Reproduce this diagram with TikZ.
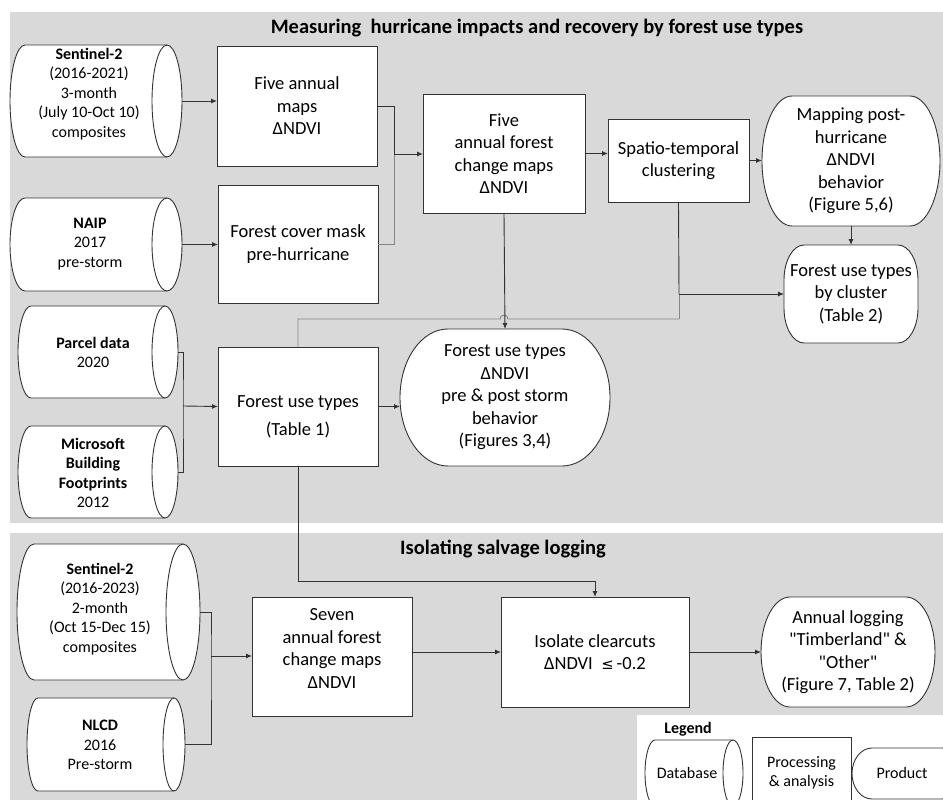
\documentclass[tikz,border=0pt]{standalone}
\usepackage{fontspec}
\setmainfont{Carlito}[Ligatures=TeXOff]
\newfontfamily\symfnt[Scale=0.8]{DejaVu Sans}
\usetikzlibrary{arrows.meta}
\definecolor{panel}{HTML}{D9D9D9}
\definecolor{edge}{HTML}{333333}
\definecolor{lightedge}{HTML}{858585}
\newcommand\bxfnt{\fontsize{18.5}{22.5}\selectfont}
\newcommand\dbfnt{\fontsize{16}{19.5}\selectfont}
\newcommand\ttlfnt{\fontsize{20.5}{24}\selectfont\bfseries}
% rounded (elliptic-corner) outline: x1 y1 x2 y2 rx ry
\newcommand\prodshape[6]{\path[shapeline] ({#1+#5},#2) -- ({#3-#5},#2) arc[start angle=-90,end angle=0,x radius=#5,y radius=#6] -- (#3,{#4-#6}) arc[start angle=0,end angle=90,x radius=#5,y radius=#6] -- ({#1+#5},#4) arc[start angle=90,end angle=180,x radius=#5,y radius=#6] -- (#1,{#2+#6}) arc[start angle=180,end angle=270,x radius=#5,y radius=#6] -- cycle;}
% database (horizontal cylinder): x1 y1 x2 y2 rx
\newcommand\dbshape[5]{\prodshape{#1}{#2}{#3}{#4}{#5}{(#4-#2)/2}\draw[shapeline,fill=none] ({#3-#5},#2) arc[start angle=-90,end angle=-270,x radius=#5,y radius={(#4-#2)/2}];}
\newcommand\prodnode[8]{\prodshape{#2}{#3}{#4}{#5}{#6}{#7}\node[hold,font=\bxfnt,minimum width={#4-#2},minimum height={#5-#3}] (#1) at ({(#2+#4)/2},{(#3+#5)/2}) {#8};}
\newcommand\dbnode[6]{\dbshape{#2}{#3}{#4}{#5}{#6}\node[hold,minimum width={#4-#2},minimum height={#5-#3}] (#1) at ({(#2+#4)/2},{(#3+#5)/2}) {};}
\tikzset{
  shapeline/.style={draw=edge,fill=white,line width=0.9pt},
  hold/.style={inner sep=0pt,outer sep=0pt,align=center},
  proc/.style={draw=edge,fill=white,line width=0.9pt,align=center,inner sep=0pt,outer sep=0pt,font=\bxfnt},
  txt/.style={align=center,inner sep=0pt,font=\bxfnt},
  dbtxt/.style={align=center,inner sep=0pt,font=\dbfnt},
  conn/.style={draw=edge,line width=0.9pt},
  lconn/.style={draw=lightedge,line width=0.9pt},
  arr/.style={conn,-{Latex[length=6pt,width=5pt]}},
}
\begin{document}
\begin{tikzpicture}[x=1pt,y=-1pt]
\useasboundingbox (0,0) rectangle (943,800);
\clip (0,0) rectangle (943,800);
\fill[white] (0,0) rectangle (943,800);
\fill[panel] (10,12) rectangle (943,523);
\fill[panel] (10,533) rectangle (943,800);
\fill[white] (637,715) rectangle (943,800);

\node[font=\ttlfnt,inner sep=0pt] (title1) at (537,28) {Measuring\ \ hurricane impacts and recovery by forest use types};
\node[font=\ttlfnt,inner sep=0pt] (title2) at (503,549) {Isolating salvage logging};

% databases
\dbnode{s2a}{10}{45}{182}{157}{15}
\node[dbtxt] (s2a-t) at (89,94) {{\bfseries Sentinel-2}\\(2016-2021)\\3-month\\(July 10-Oct 10)\\composites};
\dbnode{naip}{10}{198}{182}{291}{15}
\node[dbtxt] (naip-t) at (90,244) {{\bfseries NAIP}\\2017\\pre-storm};
\dbnode{parcel}{18}{306}{178}{398}{13}
\node[dbtxt] (parcel-t) at (93,352.5) {{\bfseries Parcel data}\\2020};
\dbnode{micro}{18}{426}{178}{518}{13}
\node[dbtxt] (micro-t) at (93,473) {{\bfseries Microsoft}\\{\bfseries Building}\\{\bfseries Footprints}\\2012};
\dbnode{s2b}{17}{544}{200}{680}{17}
\node[dbtxt] (s2b-t) at (100,609) {{\bfseries Sentinel-2}\\(2016-2023)\\2-month\\(Oct 15-Dec 15)\\composites};
\dbnode{nlcd}{27}{698}{185}{791}{11}
\node[dbtxt] (nlcd-t) at (100,745) {{\bfseries NLCD}\\2016\\Pre-storm};

% processing boxes
\node[proc,minimum width=160,minimum height=120] (box1) at (297,106) {Five annual\\maps\\ΔNDVI};
\node[proc,minimum width=160,minimum height=118] (box2) at (298,244) {Forest cover mask\\pre-hurricane};
\node[proc,minimum width=162,minimum height=119] (box3) at (504,153.5) {Five\\annual forest\\change maps\\ΔNDVI};
\node[proc,minimum width=141,minimum height=83] (box4) at (678.5,160.5) {Spatio-temporal\\clustering};
\node[proc,minimum width=160,minimum height=119] (fut) at (298,406.5) {};
\node[txt] (fut-t) at (298,417) {Forest use types\\[5.5pt](Table 1)};
\node[proc,minimum width=160,minimum height=119] (seven) at (332,656.5) {};
\node[txt] (seven-t) at (332,648.5) {Seven\\annual forest\\change maps\\ΔNDVI};
\node[proc,minimum width=188,minimum height=110] (clear) at (595,652) {Isolate clearcuts\\ΔNDVI\ \ {\symfnt ≤}\,-0.2};

% products
\prodnode{prod1}{762}{96}{940}{226}{30}{65}{Mapping post-\\hurricane\\ΔNDVI\\behavior\\(Figure 5,6)}
\prodnode{prod2}{784}{245}{918}{343}{20}{35}{Forest use types\\by cluster\\(Table 2)}
\prodnode{prod3}{400}{329}{610}{466}{48}{68.5}{Forest use types\\ΔNDVI\\pre \& post storm\\behavior\\(Figures 3,4)}
\prodnode{prod4}{761}{597}{935}{707}{29}{55}{Annual logging\\"Timberland" \&\\"Other"\\(Figure 7, Table 2)}

% connectors
\coordinate (j1) at (394,154);
\coordinate (j2) at (679,294);
\coordinate (j3) at (679,319);
\coordinate (j4) at (183,406);
\coordinate (j5) at (595,581);
\coordinate (j6) at (211,656);
\draw[arr] (s2a.east) -- (s2a.east -| box1.west);
\draw[arr] (naip.east) -- (naip.east -| box2.west);
\draw[conn] (box1.east) -| (j1);
\draw[lconn] (j1) |- (box2.east);
\draw[arr] (j1) -- (j1 -| box3.west);
\draw[arr] (box3.east) -- (box3.east -| box4.west);
\draw[arr] (box4.east) -- (box4.east -| prod1.west);
\draw[arr] (prod1.south) -- (prod2.north);
\draw[conn] (box4.south) -- (j2);
\draw[lconn] (j2) -- (j3);
\draw[lconn] (fut.north) |- (500,319) arc[start angle=180,end angle=360,radius=4] -- (j3);
\draw[arr] (j2) -- (prod2.west);
\draw[arr] (box3.south) -- (prod3.north);
\draw[arr] (fut.east) -- (fut.east -| prod3.west);
\draw[conn] (parcel.east) -| (j4) |- (micro.east);
\draw[arr] (j4) -- (fut.west);
\draw[arr] (fut.south) |- (j5) -- (clear.north);
\draw[conn] (s2b.east) -| (j6) |- (nlcd.east);
\draw[arr] (j6) -- (j6 -| seven.west);
\draw[arr] (seven.east |- clear.west) -- (clear.west);
\draw[arr] (clear.east) -- (prod4.west);

% legend
\node[font=\dbfnt\bfseries,inner sep=0pt] (leg) at (688,729) {Legend};
\dbnode{ldb}{645}{740}{743}{806}{10}
\node[dbtxt] (ldb-t) at (687,773) {Database};
\node[proc,font=\dbfnt,minimum width=99,minimum height=72] (lproc) at (801.5,773) {Processing\\\& analysis};
\prodshape{852}{748}{962}{799}{20}{25.5}
\node[hold,font=\dbfnt] (lprod) at (902,773) {Product};
\end{tikzpicture}
\end{document}
